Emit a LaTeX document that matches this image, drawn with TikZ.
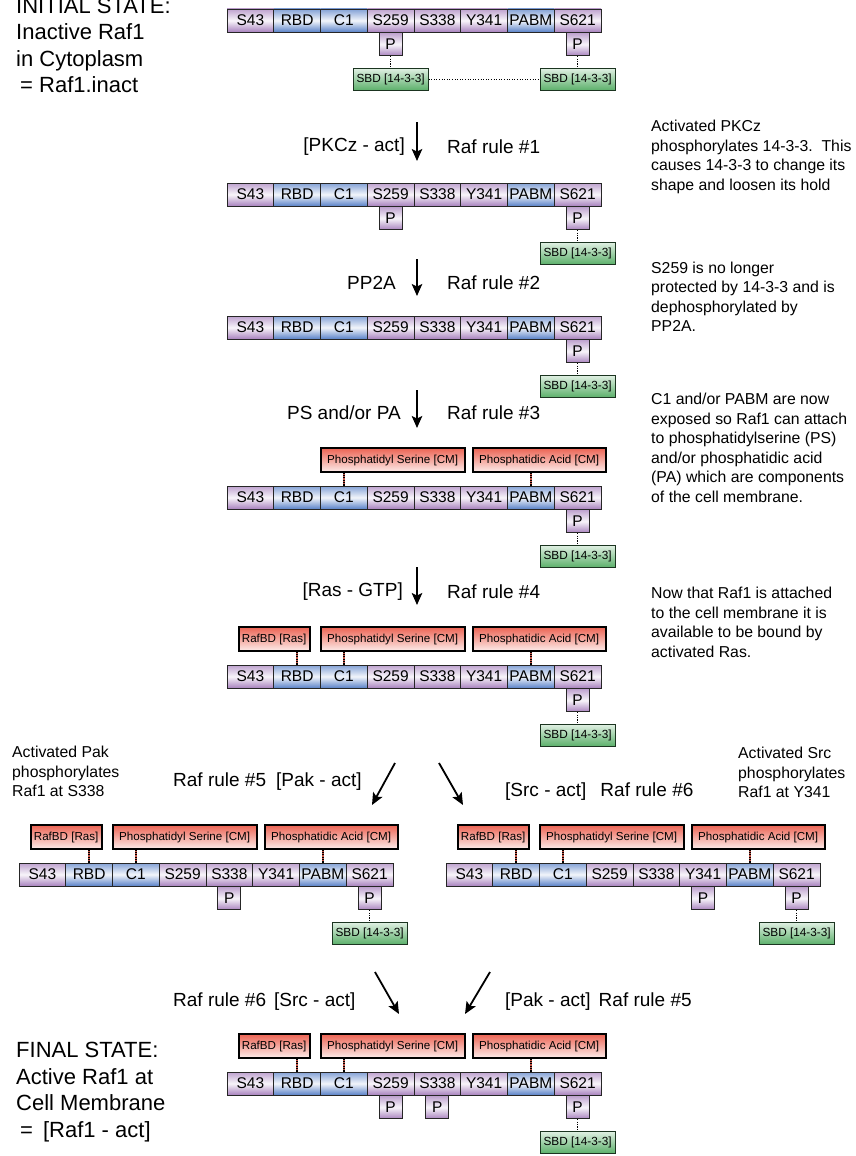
\documentclass[tikz,border=0pt]{standalone}
\usepackage{fontspec}
\setmainfont{Liberation Sans}
\usetikzlibrary{positioning,arrows.meta}

\definecolor{rafpurple}{RGB}{168,130,190}
\definecolor{rafblue}{RGB}{90,130,200}
\definecolor{rafred}{RGB}{236,100,84}
\definecolor{sbdgreen}{RGB}{90,175,105}

\tikzset{
  segbox/.style={draw=black!85, line width=0.8pt, minimum width=46.75pt, minimum height=23pt, inner sep=0pt, font=\fontsize{15.5pt}{18pt}\selectfont},
  purpseg/.style={segbox, top color=rafpurple!75!white, bottom color=rafpurple, middle color=rafpurple!8!white},
  blueseg/.style={segbox, top color=rafblue!75!white, bottom color=rafblue, middle color=rafblue!8!white},
  pbox/.style={purpseg, minimum width=23pt},
  sbdbox/.style={draw=black!70!sbdgreen, line width=0.9pt, top color=sbdgreen!20!white, bottom color=sbdgreen, minimum width=75pt, minimum height=22pt, inner sep=0pt, font=\fontsize{11.8pt}{14pt}\selectfont},
  redbox/.style={draw=black, line width=2.1pt, top color=rafred, bottom color=rafred!12!white, minimum height=24pt, inner sep=0pt, font=\fontsize{11.6pt}{14pt}\selectfont},
  sbdlink/.style={draw=black, line width=1.3pt, dash pattern=on 1.2pt off 1.2pt},
  memlink/.style={draw=rafred!85!black, line width=1.3pt, postaction={draw=black, line width=1.3pt, dash pattern=on 1.2pt off 1.2pt}},
  steparrow/.style={line width=1.8pt, -{Stealth[length=12pt, width=10.5pt, inset=2.5pt]}},
  rulelabel/.style={inner sep=0pt, font=\fontsize{19pt}{22pt}\selectfont},
  notetext/.style={inner sep=0pt, align=left, anchor=north west, font=\fontsize{15.8pt}{19.5pt}\selectfont},
  statetext/.style={inner sep=0pt, align=left, anchor=north west, font=\fontsize{22pt}{26.5pt}\selectfont}
}

% Raf1 domain chain: name, left x, top y
\newcommand{\rafchain}[3]{%
  \foreach \sty/\lbl [count=\i] in {purpseg/S43, blueseg/RBD, blueseg/C1, purpseg/S259, purpseg/S338, purpseg/Y341, blueseg/PABM, purpseg/S621}
    \node[\sty] (#1-\i) at ({#2+(\i-0.5)*46.75}, {#3+11.5}) {\lbl};
}
\newcommand{\phosP}[2]{\node[pbox, below=0pt of #1-#2] (#1-p#2) {P};}
\newcommand{\holdsbd}[2]{%
  \node[sbdbox, below=12pt of #1-p#2] (#1-sbd#2) {SBD [14-3-3]};
  \draw[sbdlink] (#1-p#2) -- (#1-sbd#2);
}
\newcommand{\membrane}[1]{%
  \node[redbox, minimum width=144pt, above right=12.5pt and 93pt of #1-1.north west] (#1-ps) {Phosphatidyl Serine [CM]};
  \node[redbox, minimum width=133pt, above right=12.5pt and 245pt of #1-1.north west] (#1-pa) {Phosphatidic Acid [CM]};
  \draw[memlink] (#1-3.north) -- (#1-3.north |- #1-ps.south);
  \draw[memlink] (#1-7.north) -- (#1-7.north |- #1-pa.south);
}
\newcommand{\rasbind}[1]{%
  \node[redbox, minimum width=71pt, above right=12.5pt and 11pt of #1-1.north west] (#1-rbd) {RafBD [Ras]};
  \draw[memlink] (#1-2.north) -- (#1-2.north |- #1-rbd.south);
}

\begin{document}
\begin{tikzpicture}[x=1pt, y=-1pt]
  \fill[white] (0,0) rectangle (855,1156);
  \useasboundingbox (0,0) rectangle (855,1156);

  % initial state
  \node[statetext] (initial) at (16,-2.5) {INITIAL STATE:\\Inactive Raf1\\in Cytoplasm\\\hspace{4pt}= Raf1.inact};
  \rafchain{r1}{227}{9}
  \phosP{r1}{4} \phosP{r1}{8}
  \holdsbd{r1}{4} \holdsbd{r1}{8}
  \draw[dotted, line width=0.6pt] (r1-sbd4) -- (r1-sbd8);

  % rule 1
  \coordinate (a1s) at (417,122);
  \coordinate (a1e) at (417,161);
  \draw[steparrow] (a1s) -- (a1e);
  \node[rulelabel, anchor=east] (a1l) at (405,147) {[PKCz - act]};
  \node[rulelabel, anchor=west] (a1r) at (447,147) {Raf rule \#1};
  \node[notetext] (note1) at (651,120) {Activated PKCz\\phosphorylates 14-3-3.\ \ This\\causes 14-3-3 to change its\\shape and loosen its hold};

  \rafchain{r2}{227}{183}
  \phosP{r2}{4} \phosP{r2}{8}
  \holdsbd{r2}{8}

  % rule 2
  \coordinate (a2s) at (417,259);
  \coordinate (a2e) at (417,296);
  \draw[steparrow] (a2s) -- (a2e);
  \node[rulelabel, anchor=east] (a2l) at (396,283) {PP2A};
  \node[rulelabel, anchor=west] (a2r) at (447,283) {Raf rule \#2};
  \node[notetext] (note2) at (651,261.5) {S259 is no longer\\protected by 14-3-3 and is\\dephosphorylated by\\PP2A.};

  \rafchain{r3}{227}{316}
  \phosP{r3}{8}
  \holdsbd{r3}{8}

  % rule 3
  \coordinate (a3s) at (417,390);
  \coordinate (a3e) at (417,428);
  \draw[steparrow] (a3s) -- (a3e);
  \node[rulelabel, anchor=east] (a3l) at (401,413) {PS and/or PA};
  \node[rulelabel, anchor=west] (a3r) at (447,413) {Raf rule \#3};
  \node[notetext] (note3) at (651,393) {C1 and/or PABM are now\\exposed so Raf1 can attach\\to phosphatidylserine (PS)\\and/or phosphatidic acid\\(PA) which are components\\of the cell membrane.};

  \rafchain{r4}{227}{486}
  \membrane{r4}
  \phosP{r4}{8}
  \holdsbd{r4}{8}

  % rule 4
  \coordinate (a4s) at (417,567);
  \coordinate (a4e) at (417,605);
  \draw[steparrow] (a4s) -- (a4e);
  \node[rulelabel, anchor=east] (a4l) at (403,592) {[Ras - GTP]};
  \node[rulelabel, anchor=west] (a4r) at (447,592) {Raf rule \#4};
  \node[notetext] (note4) at (651,587) {Now that Raf1 is attached\\to the cell membrane it is\\available to be bound by\\activated Ras.};

  \rafchain{r5}{227}{665}
  \membrane{r5} \rasbind{r5}
  \phosP{r5}{8}
  \holdsbd{r5}{8}

  % rules 5 and 6, either order
  \coordinate (a5s) at (395,763);
  \coordinate (a5e) at (372,805);
  \draw[steparrow] (a5s) -- (a5e);
  \coordinate (a6s) at (439,763);
  \coordinate (a6e) at (463,805);
  \draw[steparrow] (a6s) -- (a6e);
  \node[rulelabel, anchor=west] (a5l) at (173,782) {Raf rule \#5\hspace{10pt}[Pak - act]};
  \node[rulelabel, anchor=west] (a6l) at (505,792) {[Src - act]\hspace{14pt}Raf rule \#6};
  \node[notetext] (note5) at (12,746) {Activated Pak\\phosphorylates\\Raf1 at S338};
  \node[notetext] (note6) at (738,747) {Activated Src\\phosphorylates\\Raf1 at Y341};

  \rafchain{rL}{19}{863}
  \membrane{rL} \rasbind{rL}
  \phosP{rL}{5} \phosP{rL}{8}
  \holdsbd{rL}{8}

  \rafchain{rR}{446}{863}
  \membrane{rR} \rasbind{rR}
  \phosP{rR}{6} \phosP{rR}{8}
  \holdsbd{rR}{8}

  % the other rule
  \coordinate (a7s) at (375,972);
  \coordinate (a7e) at (399,1014);
  \draw[steparrow] (a7s) -- (a7e);
  \coordinate (a8s) at (490,972);
  \coordinate (a8e) at (465,1014);
  \draw[steparrow] (a8s) -- (a8e);
  \node[rulelabel, anchor=west] (a7l) at (173,1002) {Raf rule \#6\hspace{8pt}[Src - act]};
  \node[rulelabel, anchor=west] (a8l) at (505,1002) {[Pak - act]\hspace{8pt}Raf rule \#5};

  % final state
  \node[statetext] (final) at (16,1042) {FINAL STATE:\\Active Raf1 at\\Cell Membrane\\\hspace{4pt}=\hspace{10pt}[Raf1 - act]};
  \rafchain{r7}{227}{1072}
  \membrane{r7} \rasbind{r7}
  \phosP{r7}{4} \phosP{r7}{5} \phosP{r7}{8}
  \holdsbd{r7}{8}
\end{tikzpicture}
\end{document}
